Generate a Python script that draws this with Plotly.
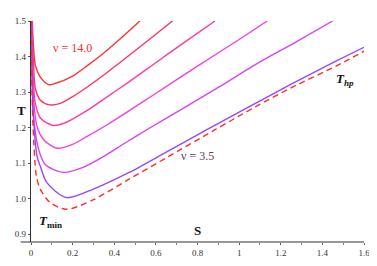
import plotly.graph_objects as go

# Read-off points (S, T) for each curve
S1 = [0.004, 0.008, 0.013, 0.021, 0.045, 0.085, 0.115, 0.20, 0.272, 0.35, 0.429, 0.523]
T1 = [1.56, 1.47, 1.42, 1.375, 1.342, 1.321, 1.324, 1.345, 1.375, 1.41, 1.450, 1.500]

S2 = [0.003, 0.007, 0.012, 0.021, 0.045, 0.09, 0.14, 0.20, 0.272, 0.35, 0.429, 0.562, 0.68]
T2 = [1.56, 1.44, 1.38, 1.31, 1.277, 1.264, 1.268, 1.287, 1.315, 1.348, 1.384, 1.445, 1.50]

S3 = [0.003, 0.007, 0.012, 0.020, 0.045, 0.106, 0.17, 0.272, 0.35, 0.469, 0.586, 0.73, 0.884]
T3 = [1.56, 1.40, 1.33, 1.27, 1.227, 1.206, 1.215, 1.249, 1.28, 1.328, 1.377, 1.437, 1.50]

S4 = [0.003, 0.007, 0.012, 0.029, 0.061, 0.125, 0.20, 0.272, 0.366, 0.476, 0.586, 0.80, 1.00, 1.135]
T4 = [1.56, 1.36, 1.28, 1.203, 1.166, 1.142, 1.153, 1.176, 1.208, 1.249, 1.291, 1.373, 1.448, 1.50]

S5 = [0.002, 0.006, 0.012, 0.037, 0.068, 0.155, 0.25, 0.35, 0.45, 0.562, 0.719, 0.90, 1.08, 1.27, 1.449]
T5 = [1.56, 1.33, 1.23, 1.138, 1.096, 1.074, 1.088, 1.119, 1.156, 1.196, 1.250, 1.313, 1.378, 1.440, 1.50]

S6 = [0.002, 0.005, 0.010, 0.029, 0.045, 0.076, 0.17, 0.30, 0.469, 0.65, 0.845, 1.033, 1.25, 1.472, 1.60]
T6 = [1.56, 1.35, 1.25, 1.119, 1.091, 1.045, 1.003, 1.027, 1.073, 1.131, 1.194, 1.254, 1.322, 1.389, 1.426]

S7 = [0.002, 0.005, 0.010, 0.026, 0.045, 0.092, 0.17, 0.30, 0.469, 0.65, 0.884, 1.08, 1.25, 1.472, 1.60]
T7 = [1.56, 1.30, 1.20, 1.063, 1.026, 0.989, 0.970, 0.997, 1.054, 1.115, 1.194, 1.259, 1.312, 1.375, 1.415]

curves = [
    (S1, T1, "#ff3333", "solid"),
    (S2, T2, "#ff3366", "solid"),
    (S3, T3, "#ff3aa6", "solid"),
    (S4, T4, "#f23fe0", "solid"),
    (S5, T5, "#d744f5", "solid"),
    (S6, T6, "#9448ff", "solid"),
    (S7, T7, "#ff2b2b", "dash"),
]

x_tickvals = [0, 0.2, 0.4, 0.6, 0.8, 1.0, 1.2, 1.4, 1.6]
x_ticktext = ["0", "0.2", "0.4", "0.6", "0.8", "1", "1.2", "1.4", "1.6"]
y_tickvals = [0.9, 1.0, 1.1, 1.2, 1.3, 1.4, 1.5]
y_ticktext = ["0.9", "1.0", "1.1", "1.2", "1.3", "1.4", "1.5"]

fig = go.Figure()
for s, t, c, d in curves:
    fig.add_trace(go.Scatter(x=s, y=t, mode="lines",
                             line=dict(color=c, width=1.4, dash=("6px,4px" if d == "dash" else "solid"),
                                       shape="spline", smoothing=0.8),
                             showlegend=False, hoverinfo="skip"))

serif = "Liberation Serif, Times New Roman, DejaVu Serif, serif"
# the page body has an 8px default margin, so the figure is sized/offset to compensate
fig.update_layout(
    width=369, height=258,
    margin=dict(l=22.5, r=6.5, t=13, b=23.5),
    paper_bgcolor="white", plot_bgcolor="white",
    font=dict(family=serif, size=9, color="#333333"),
    xaxis=dict(range=[0, 1.6], tickvals=x_tickvals, ticktext=x_ticktext,
               showgrid=False, zeroline=False, showline=False,
               ticks="outside", ticklen=2, tickcolor="#555555",
               minor=dict(dtick=0.1, ticks="outside", ticklen=2, tickcolor="#777777"),
               tickfont=dict(family=serif, size=9, color="#333333")),
    yaxis=dict(range=[0.878, 1.5], tickvals=y_tickvals, ticktext=y_ticktext,
               showgrid=False, zeroline=False, showline=True, linecolor="#333333", linewidth=1.2,
               ticks="outside", ticklen=2, tickcolor="#555555",
               tickfont=dict(family=serif, size=9, color="#333333")),
    shapes=[dict(type="line", xref="paper", yref="paper", x0=-0.031, x1=1.0, y0=0, y1=0,
                 line=dict(color="#333333", width=1.2))],
)

fig.add_annotation(x=0.20, y=1.423, text="ν = 14.0", showarrow=False,
                   font=dict(family=serif, size=12, color="#ff2a2a"))
fig.add_annotation(x=0.80, y=1.121, text="ν = 3.5", showarrow=False,
                   font=dict(family=serif, size=12, color="#5e3c5e"))
fig.add_annotation(xref="paper", yref="paper", x=-0.01, y=0.596, xanchor="right", yanchor="middle",
                   text="<b>T</b>", showarrow=False,
                   font=dict(family=serif, size=13, color="#111111"))
fig.add_annotation(x=0.80, y=0.909, text="<b>S</b>", showarrow=False,
                   font=dict(family=serif, size=13, color="#111111"))
fig.add_annotation(x=0.095, y=0.935, text="<b><i>T</i></b><sub><b>min</b></sub>", showarrow=False,
                   font=dict(family=serif, size=13, color="#111111"))
fig.add_annotation(x=1.51, y=1.335, text="<b><i>T<sub>hp</sub></i></b>", showarrow=False,
                   font=dict(family=serif, size=13, color="#111111"))

fig.write_html("out.html")
